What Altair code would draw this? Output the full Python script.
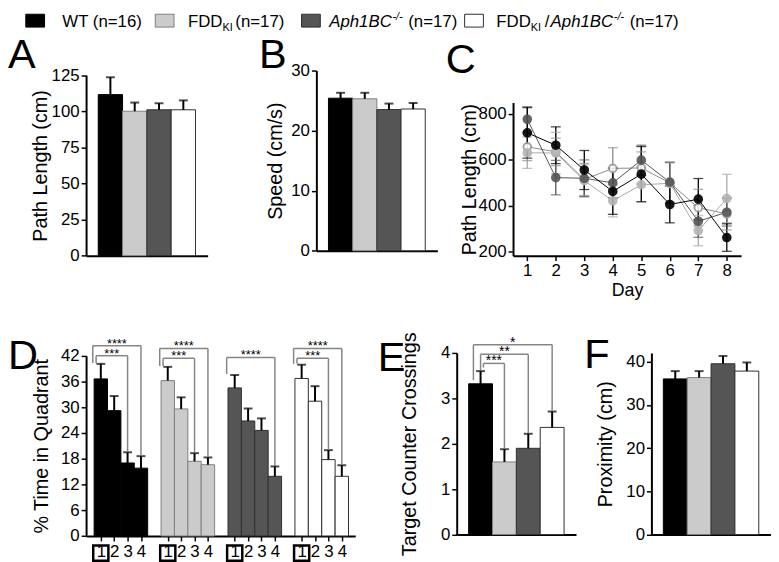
import altair as alt
import pandas as pd

FONT = "Liberation Sans"

# ---------------- data ----------------
group_names = ["WT", "FDD_KI", "Aph1BC", "FDD_KI/Aph1BC"]
bar_fill = ["#000000", "#cbcbcb", "#555555", "#ffffff"]
bar_line = ["#000000", "#808080", "#303030", "#303030"]

path_len = [111.5, 100.0, 101.0, 101.0]
path_len_err = [12.0, 6.0, 4.5, 6.5]
speed = [25.4, 25.3, 23.5, 23.6]
speed_err = [0.9, 1.0, 1.0, 1.0]
crossings = [3.32, 1.60, 1.90, 2.36]
crossings_err = [0.28, 0.28, 0.32, 0.35]
proximity = [36.0, 36.3, 39.5, 37.8]
proximity_err = [1.8, 1.5, 1.8, 2.0]

quad_wt = [36.6, 29.2, 17.0, 15.8]
quad_wt_err = [3.5, 3.4, 2.5, 2.8]
quad_fdd = [36.2, 29.6, 17.4, 16.6]
quad_fdd_err = [3.2, 2.7, 1.9, 1.7]
quad_aph = [34.5, 26.8, 24.6, 13.9]
quad_aph_err = [3.0, 2.9, 2.8, 2.3]
quad_dbl = [36.7, 31.4, 17.8, 13.9]
quad_dbl_err = [3.2, 3.5, 2.2, 2.6]

days = [1, 2, 3, 4, 5, 6, 7, 8]
day_wt = [718, 664, 556, 463, 538, 406, 429, 262]
day_wt_err = [110, 80, 85, 100, 120, 80, 90, 60]
day_fdd = [631, 630, 510, 422, 492, 498, 292, 432]
day_fdd_err = [68, 90, 70, 70, 75, 90, 66, 105]
day_aph = [777, 523, 520, 500, 599, 503, 333, 372]
day_aph_err = [55, 75, 80, 65, 65, 88, 70, 60]
day_dbl = [657, 635, 515, 563, 565, 500, 392, 365]
day_dbl_err = [60, 60, 70, 90, 70, 88, 80, 70]

line_cols = ["#000000", "#a8a8a8", "#555555", "#8c8c8c"]
pt_fill = ["#000000", "#b4b4b4", "#555555", "#ffffff"]
pt_line = ["#000000", "#b4b4b4", "#555555", "#9a9a9a"]

# significance brackets: (group, target quadrant, level, label)
sig_d = [(0, 3, 44.3, "****"), (0, 2, 42.0, "***"),
         (1, 3, 43.7, "****"), (1, 2, 41.4, "***"),
         (2, 3, 41.6, "****"),
         (3, 3, 43.7, "****"), (3, 2, 41.4, "***")]
# (target bar, level, label, left x offset, left bottom)
sig_e = [(3, 4.18, "*", 0.2, 3.40), (2, 3.97, "**", 0.5, 3.62), (1, 3.77, "***", 0.62, 3.68)]

one = pd.DataFrame({"k": [0]})
LETTER = 42


def txt(s, x, y, size, style="normal", align="left", baseline="alphabetic", color="black"):
    return alt.Chart(one).mark_text(text=s, font=FONT, fontSize=size, fontStyle=style,
                                    align=align, baseline=baseline, color=color).encode(
        x=alt.value(x), y=alt.value(y))


def box(x1, x2, y1, y2, fill, stroke):
    return alt.Chart(one).mark_rect(fill=fill, stroke=stroke, strokeWidth=1).encode(
        x=alt.value(x1), x2=alt.value(x2), y=alt.value(y1), y2=alt.value(y2))


def bar_table(values, errs):
    n = len(values)
    return pd.DataFrame({
        "left": list(range(n)),
        "right": [i + 1 for i in range(n)],
        "mid": [i + 0.5 for i in range(n)],
        "value": values,
        "top": [v + e for v, e in zip(values, errs)],
        "zero": [0] * n,
        "fill": bar_fill[:n],
        "line": bar_line[:n],
    })


def bar_layers(df, xscale, yscale, yaxis, xaxis):
    base = alt.Chart(df)
    bars = base.mark_rect(strokeWidth=1).encode(
        x=alt.X("left:Q", scale=xscale, axis=xaxis),
        x2="right:Q",
        y=alt.Y("value:Q", scale=yscale, axis=yaxis),
        y2="zero:Q",
        fill=alt.Fill("fill:N", scale=None),
        stroke=alt.Stroke("line:N", scale=None))
    stems = base.mark_rule(color="black", strokeWidth=2).encode(
        x="mid:Q", y="value:Q", y2="top:Q")
    caps = base.mark_tick(color="black", orient="horizontal", size=9, thickness=2).encode(
        x="mid:Q", y="top:Q")
    return [bars, stems, caps]


flat_x_axis = alt.Axis(title=None, labels=False, ticks=False, grid=False)


def simple_bar_panel(values, errs, ymax, ticks, title, title_x, width, height, yrange=None):
    xs = alt.Scale(domain=[-0.5, 4.5], nice=False, zero=False)
    if yrange is None:
        ys = alt.Scale(domain=[0, ymax], nice=False)
    else:
        ys = alt.Scale(domain=[0, ymax], nice=False, range=yrange)
    ya = alt.Axis(values=ticks, tickCount=len(ticks) + 2, title=title, titleX=title_x,
                  titleBaseline="middle", format="d")
    return bar_layers(bar_table(values, errs), xs, ys, ya, flat_x_axis), width, height


# ---------------- panel A (with legend) ----------------
a_layers, a_w, a_h = simple_bar_panel(path_len, path_len_err, 125, [0, 25, 50, 75, 100, 125],
                                      "Path Length (cm)", -46, 123, 187.3, yrange=[187.3, 4.6])
LY = -44  # legend text baseline
legend = [
    box(-61, -42, LY - 13, LY, "#000000", "#000000"),
    txt("WT (n=16)", -24, LY, 17),
    box(70, 89, LY - 13, LY, "#cbcbcb", "#808080"),
    txt("FDD", 103, LY, 17), txt("KI", 138, LY + 4, 11), txt("(n=17)", 151, LY, 17),
    box(218, 237, LY - 13, LY, "#555555", "#303030"),
    txt("Aph1BC", 246, LY, 17, style="italic"), txt("-/-", 310, LY - 7, 11, style="italic"),
    txt("(n=17)", 326, LY, 17),
    box(383, 402, LY - 13, LY, "#ffffff", "#303030"),
    txt("FDD", 415, LY, 17), txt("KI", 450, LY + 4, 11), txt("/", 464, LY, 17),
    txt("Aph1BC", 470, LY, 17, style="italic"), txt("-/-", 534, LY - 7, 11, style="italic"),
    txt("(n=17)", 550, LY, 17),
]
panelA = alt.layer(*a_layers, txt("A", -79, -3, LETTER), *legend).properties(width=a_w, height=a_h)

# ---------------- panel B ----------------
b_layers, b_w, b_h = simple_bar_panel(speed, speed_err, 30, [0, 10, 20, 30],
                                      "Speed (cm/s)", -41, 122.4, 182.3)
panelB = alt.layer(*b_layers, txt("B", -58, -3, LETTER)).properties(width=b_w, height=b_h)

# ---------------- panel C ----------------
c_rows = []
series_data = {
    "WT": (day_wt, day_wt_err),
    "FDD_KI": (day_fdd, day_fdd_err),
    "Aph1BC": (day_aph, day_aph_err),
    "FDD_KI/Aph1BC": (day_dbl, day_dbl_err),
}
for name in ["FDD_KI/Aph1BC", "FDD_KI", "Aph1BC", "WT"]:
    vals, errs = series_data[name]
    for d, v, e in zip(days, vals, errs):
        c_rows.append({"series": name, "day": d, "v": v, "lo": v - e, "hi": v + e})
c_df = pd.DataFrame(c_rows)

cx = alt.Scale(domain=[0.5, 8.5], nice=False, zero=False)
cy = alt.Scale(domain=[183, 850], nice=False, zero=False, range=[187.3, 32.3])
c_color = alt.Color("series:N", scale=alt.Scale(domain=group_names, range=line_cols), legend=None)
c_base = alt.Chart(c_df)
c_lines = c_base.mark_line(strokeWidth=1).encode(
    x=alt.X("day:Q", scale=cx, axis=alt.Axis(values=days, tickCount=12, title="Day", format="d",
                                             titleFontSize=18, titlePadding=3)),
    y=alt.Y("v:Q", scale=cy, axis=alt.Axis(values=[200, 400, 600, 800], tickCount=8,
                                           title="Path Length (cm)",
                                           titleX=-44, titleBaseline="middle", format="d")),
    color=c_color)
c_err = c_base.mark_rule(strokeWidth=1.3).encode(x="day:Q", y="lo:Q", y2="hi:Q", color=c_color)
c_cap_lo = c_base.mark_tick(orient="horizontal", size=10, thickness=1.3).encode(
    x="day:Q", y="lo:Q", color=c_color)
c_cap_hi = c_base.mark_tick(orient="horizontal", size=10, thickness=1.3).encode(
    x="day:Q", y="hi:Q", color=c_color)
c_pts = c_base.mark_point(shape="circle", filled=True, size=60, strokeWidth=2, opacity=0.9).encode(
    x="day:Q", y="v:Q",
    fill=alt.Fill("series:N", scale=alt.Scale(domain=group_names, range=pt_fill), legend=None),
    stroke=alt.Stroke("series:N", scale=alt.Scale(domain=group_names, range=pt_line), legend=None))
panelC = alt.layer(c_lines, c_err, c_cap_lo, c_cap_hi, c_pts, txt("C", -68, 2, LETTER)).properties(
    width=230.7, height=187.3)

# ---------------- panel D ----------------
quad_sets = [(quad_wt, quad_wt_err), (quad_fdd, quad_fdd_err),
             (quad_aph, quad_aph_err), (quad_dbl, quad_dbl_err)]
d_rows = []
for g, (vals, errs) in enumerate(quad_sets):
    for j, (v, e) in enumerate(zip(vals, errs)):
        k = g * 5 + j
        d_rows.append({"left": k, "right": k + 1, "mid": k + 0.5, "value": v, "top": v + e,
                       "zero": 0, "fill": bar_fill[g], "line": bar_line[g]})
d_df = pd.DataFrame(d_rows)
d_centers = list(d_df["mid"])

d_xs = alt.Scale(domain=[-0.6, 19.5], nice=False, zero=False)
d_ys = alt.Scale(domain=[0, 42], nice=False, range=[185.2, 2.8])
d_yaxis = alt.Axis(values=[0, 6, 12, 18, 24, 30, 36, 42], tickCount=12, title="% Time in Quadrant",
                   titleX=-45, titleBaseline="middle", format="d")
d_xaxis = alt.Axis(values=d_centers, tickCount=30, title=None, grid=False, labelOverlap=False,
                   labelExpr="'' + (floor(datum.value) % 5 + 1)", labelPadding=3)
d_layers = bar_layers(d_df, d_xs, d_ys, d_yaxis, d_xaxis)

br_rows = []
for g, j, lvl, lab in sig_d:
    first_top = quad_sets[g][0][0] + quad_sets[g][1][0]
    tgt_top = quad_sets[g][0][j] + quad_sets[g][1][j]
    xl = g * 5 + (-0.1 if j == 3 else 0.15)
    xr = g * 5 + j + 0.5
    br_rows.append({"xl": xl, "xr": xr, "xc": (xl + xr) / 2, "lvl": lvl,
                    "lb": first_top + 0.2, "rb": tgt_top + 0.1, "lab": lab})
br_df = pd.DataFrame(br_rows)
br_base = alt.Chart(br_df)
br_h = br_base.mark_rule(color="#858585", strokeWidth=1.5).encode(x="xl:Q", x2="xr:Q", y="lvl:Q")
br_l = br_base.mark_rule(color="#858585", strokeWidth=1.5).encode(x="xl:Q", y="lvl:Q", y2="lb:Q")
br_r = br_base.mark_rule(color="#858585", strokeWidth=1.5).encode(x="xr:Q", y="lvl:Q", y2="rb:Q")
br_t = br_base.mark_text(font=FONT, fontSize=13, baseline="middle", dy=-2, color="black").encode(
    x="xc:Q", y="lvl:Q", text="lab:N")

box_df = pd.DataFrame({"first": [g * 5 + 0.5 for g in range(4)]})
d_boxes = alt.Chart(box_df).mark_point(shape="square", filled=False, size=235, strokeWidth=2.5,
                                       color="black", opacity=1).encode(
    x="first:Q", y=alt.value(202.5))

panelD = alt.layer(*d_layers, br_h, br_l, br_r, br_t, d_boxes,
                   txt("D", -79, 16, LETTER)).properties(width=272.3, height=185.2)

# ---------------- panel E ----------------
e_layers, e_w, e_h = simple_bar_panel(crossings, crossings_err, 4, [0, 1, 2, 3, 4],
                                      "Target Counter Crossings", -48, 120.7, 183.8)
e_rows = []
for j, lvl, lab, xoff, lb in sig_e:
    xr = j + 0.5
    e_rows.append({"xl": xoff, "xr": xr, "xc": (xoff + xr) / 2, "lvl": lvl, "lb": lb,
                   "rb": crossings[j] + crossings_err[j] + 0.02, "lab": lab})
e_br = pd.DataFrame(e_rows)
eb = alt.Chart(e_br)
e_h_rule = eb.mark_rule(color="#858585", strokeWidth=1.5).encode(x="xl:Q", x2="xr:Q", y="lvl:Q")
e_l_rule = eb.mark_rule(color="#858585", strokeWidth=1.5).encode(x="xl:Q", y="lvl:Q", y2="lb:Q")
e_r_rule = eb.mark_rule(color="#858585", strokeWidth=1.5).encode(x="xr:Q", y="lvl:Q", y2="rb:Q")
e_text = eb.mark_text(font=FONT, fontSize=14, baseline="middle", dy=-2, color="black").encode(
    x="xc:Q", y="lvl:Q", text="lab:N")
panelE = alt.layer(*e_layers, e_h_rule, e_l_rule, e_r_rule, e_text,
                   txt("E", -80, 18, LETTER)).properties(width=e_w, height=e_h)

# ---------------- panel F ----------------
f_layers, f_w, f_h = simple_bar_panel(proximity, proximity_err, 42, [0, 10, 20, 30, 40],
                                      "Proximity (cm)", -46, 120.7, 183.8)
panelF = alt.layer(*f_layers, txt("F", -68, 15, LETTER)).properties(width=f_w, height=f_h)


def spacer(w):
    return alt.Chart(one).mark_point(opacity=0).encode(
        x=alt.X("k:Q", axis=None), y=alt.Y("k:Q", axis=None)).properties(width=w, height=20)


row1 = alt.hconcat(panelA, spacer(109.3), panelB, spacer(75.6), panelC, spacing=0, bounds="flush")
row2 = alt.hconcat(panelD, spacer(102), panelE, spacer(75.6), panelF, spacing=0, bounds="flush")

chart = alt.vconcat(row1, row2, spacing=31.7).properties(padding=0).configure_view(
    stroke=None
).configure_axis(
    labelFont=FONT, titleFont=FONT, labelFontSize=17, titleFontSize=20, titleFontWeight="normal",
    labelColor="black", titleColor="black", domainColor="black", tickColor="black",
    domainWidth=2, tickWidth=1.5, tickSize=5, grid=False, labelPadding=2, labelOverlap=False
)

chart.save("out.html", embed_options={"renderer": "svg", "actions": False})
